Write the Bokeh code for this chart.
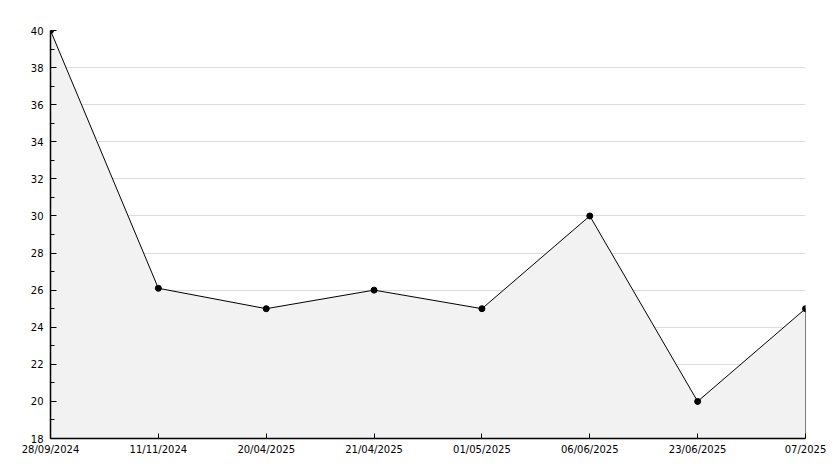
from bokeh.plotting import figure
from bokeh.models import Range1d, FixedTicker
from bokeh.embed import file_html
from bokeh.resources import INLINE

dates = ["28/09/2024", "11/11/2024", "20/04/2025", "21/04/2025",
         "01/05/2025", "06/06/2025", "23/06/2025", "07/2025"]
values = [40, 26.1, 25, 26, 25, 30, 20, 25]
y_ticks = [18, 20, 22, 24, 26, 28, 30, 32, 34, 36, 38, 40]
y_minor = [19, 21, 23, 25, 27, 29, 31, 33, 35, 37, 39]
y_min, y_max = 18, 40

xs = list(range(len(dates)))

p = figure(width=826, height=460, output_backend="svg", toolbar_location=None,
           x_range=Range1d(0, len(dates) - 1), y_range=Range1d(y_min, y_max),
           min_border_left=50, min_border_right=21, min_border_top=30, min_border_bottom=22)
p.outline_line_color = None
p.background_fill_color = "white"
p.border_fill_color = "white"

p.xgrid.grid_line_color = None
p.ygrid.grid_line_color = "#dcdcdc"
p.ygrid.grid_line_width = 1

p.varea(x=xs, y1=[y_min] * len(xs), y2=values, fill_color="#f2f2f2")
p.line(xs, values, line_color="black", line_width=1)
p.segment(x0=[xs[-1]], y0=[y_min], x1=[xs[-1]], y1=[values[-1]], line_color="black", line_width=1)
p.scatter(xs, values, size=6, marker="circle", fill_color="black", line_color="black")

p.xaxis.ticker = FixedTicker(ticks=xs)
p.xaxis.major_label_overrides = {i: d for i, d in enumerate(dates)}
p.yaxis.ticker = FixedTicker(ticks=y_ticks, minor_ticks=y_minor)

for ax in (p.xaxis[0], p.yaxis[0]):
    ax.axis_line_color = "black"
    ax.axis_line_width = 1.5
    ax.major_tick_line_color = "black"
    ax.major_tick_in = 6
    ax.major_tick_out = 0
    ax.minor_tick_line_color = "black"
    ax.minor_tick_in = 4
    ax.minor_tick_out = 0
    ax.major_label_text_font = "DejaVu Sans"
    ax.major_label_text_font_size = "10px"
    ax.major_label_text_color = "black"
p.xaxis.minor_tick_line_color = None
p.xaxis.major_tick_in = 5
p.xaxis.major_label_standoff = 5
p.yaxis.major_label_standoff = 7

open("out.html", "w").write(file_html(p, INLINE))
